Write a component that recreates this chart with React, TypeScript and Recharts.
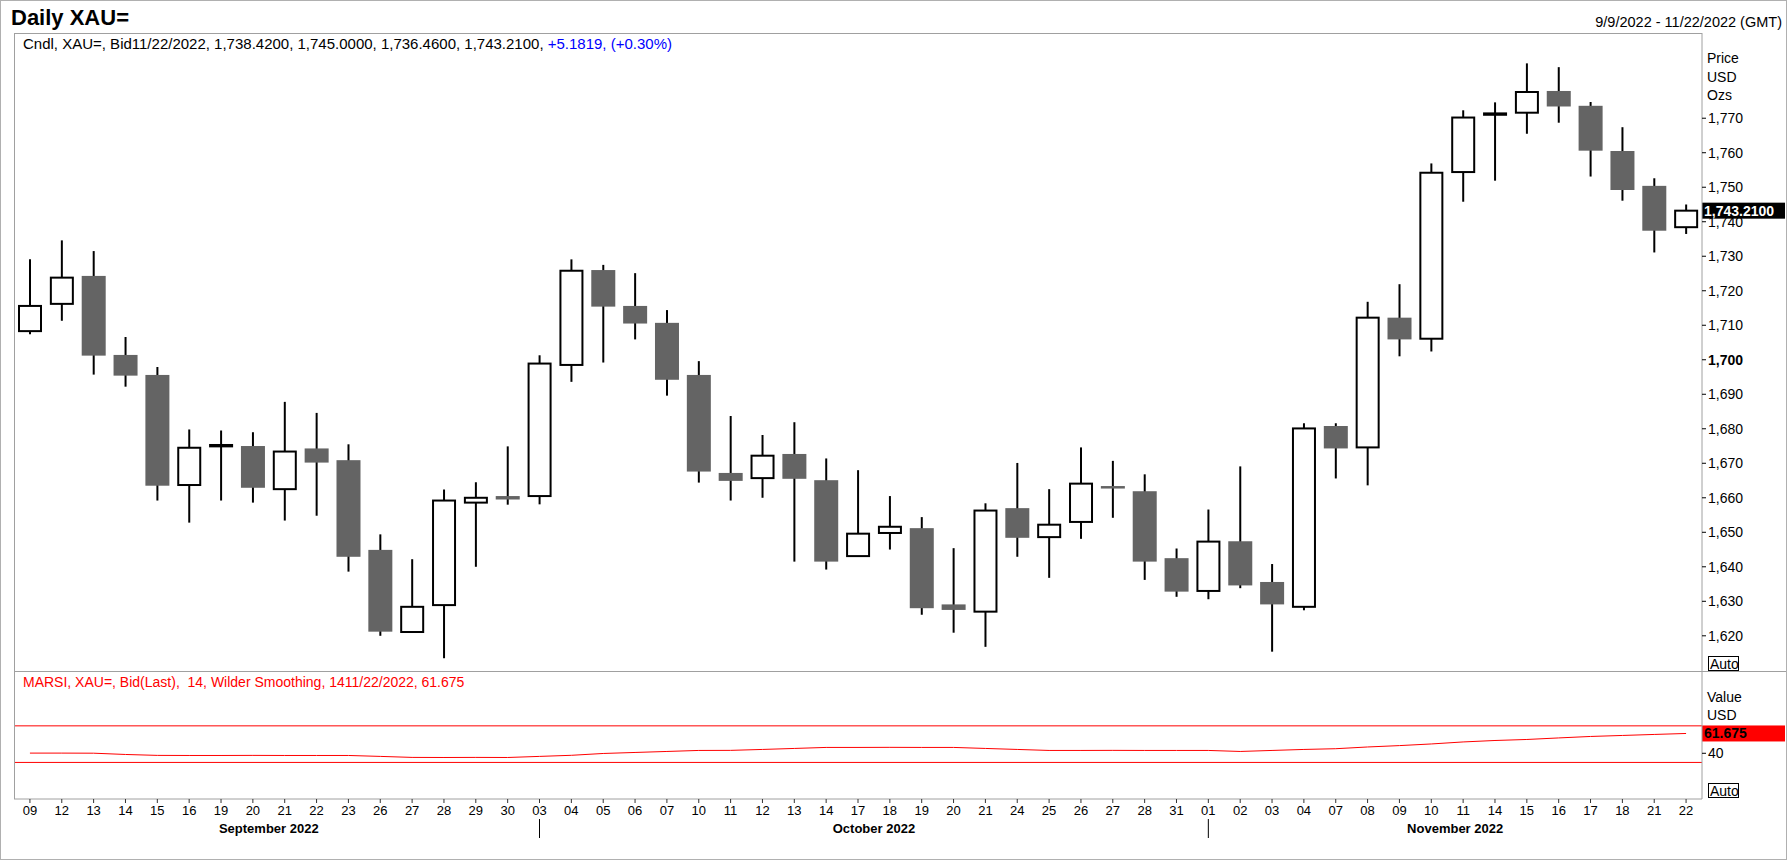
import { ComposedChart, Bar, Line, XAxis, YAxis, ReferenceLine } from 'recharts'

// trading days, MM-DD
const dates = [
  '09-09', '09-12', '09-13', '09-14', '09-15', '09-16', '09-19', '09-20', '09-21', '09-22', '09-23',
  '09-26', '09-27', '09-28', '09-29', '09-30',
  '10-03', '10-04', '10-05', '10-06', '10-07', '10-10', '10-11', '10-12', '10-13', '10-14',
  '10-17', '10-18', '10-19', '10-20', '10-21', '10-24', '10-25', '10-26', '10-27', '10-28', '10-31',
  '11-01', '11-02', '11-03', '11-04', '11-07', '11-08', '11-09', '11-10', '11-11',
  '11-14', '11-15', '11-16', '11-17', '11-18', '11-21', '11-22',
]

const opens = [
  1708.3, 1716.2, 1724.3, 1701.4, 1695.6, 1663.7, 1674.9, 1675.0, 1662.5, 1674.3, 1670.9,
  1644.9, 1621.1, 1628.9, 1658.6, 1660.5,
  1660.5, 1698.5, 1726.0, 1715.6, 1710.7, 1695.6, 1667.2, 1665.7, 1672.7, 1665.1,
  1643.1, 1649.8, 1651.2, 1629.1, 1627.0, 1657.0, 1648.6, 1653.0, 1663.4, 1661.9, 1642.5,
  1633.0, 1647.4, 1635.6, 1628.4, 1680.8, 1674.6, 1712.2, 1706.1, 1754.4,
  1771.0, 1771.6, 1777.9, 1773.6, 1760.5, 1750.4, 1738.42,
]

const highs = [
  1729.1, 1734.6, 1731.5, 1706.6, 1697.9, 1679.8, 1679.5, 1679.0, 1687.8, 1684.6, 1675.5,
  1649.4, 1642.2, 1662.4, 1664.5, 1674.9,
  1701.3, 1729.1, 1727.5, 1725.1, 1714.4, 1699.6, 1683.7, 1678.2, 1681.9, 1671.4,
  1668.0, 1660.5, 1654.4, 1645.4, 1658.4, 1670.1, 1662.5, 1674.6, 1670.7, 1666.8, 1645.3,
  1656.6, 1669.1, 1640.8, 1681.6, 1681.6, 1716.8, 1721.9, 1756.9, 1772.3,
  1774.6, 1785.9, 1784.8, 1774.7, 1767.4, 1752.6, 1745.0,
]

const lows = [
  1707.4, 1711.3, 1695.7, 1692.2, 1659.2, 1652.8, 1659.2, 1658.6, 1653.4, 1654.8, 1638.6,
  1620.0, 1620.9, 1613.5, 1640.0, 1658.0,
  1658.1, 1693.6, 1699.2, 1705.9, 1689.6, 1664.4, 1659.2, 1660.0, 1641.5, 1639.2,
  1643.0, 1645.0, 1626.1, 1620.9, 1616.8, 1642.9, 1636.8, 1648.1, 1654.2, 1636.2, 1631.3,
  1630.6, 1633.8, 1615.4, 1627.4, 1665.6, 1663.6, 1701.0, 1702.4, 1745.8,
  1751.9, 1765.5, 1768.7, 1753.1, 1746.1, 1731.1, 1736.46,
]

const closes = [
  1715.6, 1723.8, 1701.2, 1695.4, 1663.5, 1674.5, 1675.3, 1662.9, 1673.4, 1670.2, 1642.9,
  1621.2, 1628.4, 1659.2, 1660.0, 1659.5,
  1698.9, 1725.8, 1715.4, 1710.5, 1694.2, 1667.6, 1664.9, 1672.2, 1665.5, 1641.5,
  1649.6, 1651.6, 1628.0, 1627.5, 1656.3, 1648.4, 1652.2, 1664.1, 1662.7, 1641.5, 1632.8,
  1647.3, 1634.6, 1629.1, 1680.1, 1674.3, 1712.2, 1705.9, 1754.2, 1770.2,
  1771.4, 1777.6, 1773.4, 1760.6, 1749.2, 1737.4, 1743.21,
]

const marsi = [
  40.2, 40.2, 40.1, 38.7, 37.7, 37.6, 37.6, 37.7, 37.6, 37.6, 37.6,
  36.6, 35.5, 35.4, 35.5, 35.4,
  36.6, 37.8, 39.8, 40.9, 42.0, 43.1, 43.2, 44.2, 45.3, 46.4,
  46.4, 46.5, 46.4, 46.4, 45.3, 44.2, 43.1, 43.1, 43.2, 43.1, 43.1,
  43.1, 42.0, 43.1, 44.2, 45.0, 46.9, 48.4, 50.2, 52.4,
  54.0, 55.1, 56.8, 58.4, 59.5, 60.6, 61.675,
]

const monthNames: Record<string, string> = {
  '09': 'September 2022',
  '10': 'October 2022',
  '11': 'November 2022',
}

const priceTicks = [1620, 1630, 1640, 1650, 1660, 1670, 1680, 1690, 1700, 1710, 1720, 1730, 1740, 1750, 1760, 1770]
const priceDomain = [1609.8, 1794.7]
const rsiTicks = [40]
const rsiDomain = [-10, 130]
const rsiBands = [70, 30]

const data = dates.map((d, i) => ({
  date: d,
  day: d.slice(3),
  month: d.slice(0, 2),
  open: opens[i],
  high: highs[i],
  low: lows[i],
  close: closes[i],
  range: [lows[i], highs[i]],
  rsi: marsi[i],
}))

const W = 1788
const H = 862
const PLOT_L = 14
const PLOT_R = 1702
const AXIS_W = 84
const TOP = 33
const MID = 671
const BOT = 799
const BAND = (PLOT_R - PLOT_L) / data.length
const FONT = '"Liberation Sans", Arial, sans-serif'
const GRAY = '#a0a0a0'
const DOWN = '#646464'

function Candle(props: any) {
  const { x, y, width, height, payload } = props
  const { open, high, low, close } = payload
  const top = Math.min(y, y + height)
  const h = Math.abs(height)
  const k = h / (high - low)
  const yv = (v: number) => top + (high - v) * k
  const cx = x + width / 2
  const bTop = yv(Math.max(open, close))
  const bBot = yv(Math.min(open, close))
  return (
    <g>
      <line x1={cx} x2={cx} y1={yv(high)} y2={yv(low)} stroke="#000" strokeWidth={2} />
      {close >= open ? (
        <rect x={x + 1} y={bTop} width={width - 2} height={Math.max(bBot - bTop, 1)} fill="#fff" stroke="#000" strokeWidth={2} />
      ) : (
        <rect x={x} y={bTop} width={width} height={Math.max(bBot - bTop, 2.5)} fill={DOWN} />
      )}
    </g>
  )
}

function PriceTick(props: any) {
  const { x, y, payload } = props
  const v = payload.value
  return (
    <g>
      <line x1={x} x2={x + 4} y1={y} y2={y} stroke="#000" />
      <text x={x + 6} y={y} dominantBaseline="central" fontSize={14} fontFamily={FONT} fontWeight={v === 1700 ? 'bold' : 'normal'} fill="#000">
        {v.toLocaleString('en-US')}
      </text>
    </g>
  )
}

function DayTick(props: any) {
  const { x, y, payload } = props
  const i = dates.indexOf(payload.value)
  const d = data[i]
  const prev = data[i - 1]
  const first = !prev || prev.month !== d.month
  let cx = x
  if (first) {
    let end = i
    while (end + 1 < data.length && data[end + 1].month === d.month) end++
    if (!prev) cx = x + ((end - i) * BAND) / 2
    else cx = (x + (end + 1 < data.length ? x + (end + 1 - i) * BAND : PLOT_R)) / 2
  }
  return (
    <g fontFamily={FONT}>
      <text x={x} y={y} dy={12} textAnchor="middle" fontSize={13} fill="#000">{d.day}</text>
      {first && prev && <line x1={x} x2={x} y1={y + 16} y2={y + 35} stroke="#000" />}
      {first && (
        <text x={cx} y={y} dy={30} textAnchor="middle" fontSize={13} fontWeight="bold" fill="#000">
          {monthNames[d.month]}
        </text>
      )}
    </g>
  )
}

function ValueTag({ viewBox, text, bg, fg }: any) {
  const right = viewBox.x + viewBox.width
  return (
    <g>
      <rect x={right} y={viewBox.y - 8} width={83} height={16} fill={bg} />
      <text x={right + 2} y={viewBox.y} dominantBaseline="central" fontSize={14} fontWeight="bold" fontFamily={FONT} fill={fg}>
        {text}
      </text>
    </g>
  )
}

function AutoBox({ y }: { y: number }) {
  return (
    <g>
      <rect x={1708.5} y={y + 0.5} width={30} height={14} fill="#fff" stroke="#000" />
      <text x={1710} y={y + 8} dominantBaseline="central" fontSize={14}>Auto</text>
    </g>
  )
}

export default function App() {
  const last = closes[closes.length - 1]
  const lastRsi = marsi[marsi.length - 1]
  return (
    <div style={{ position: 'fixed', left: 0, top: 0, width: W, height: H, background: '#fff', fontFamily: FONT }}>
      <div style={{ position: 'absolute', left: 0, top: 0 }}>
        <ComposedChart width={W} height={MID} data={data} margin={{ top: TOP, right: W - PLOT_R - AXIS_W, bottom: 0, left: PLOT_L }}>
          <XAxis dataKey="date" hide />
          <YAxis
            orientation="right"
            width={AXIS_W}
            type="number"
            domain={priceDomain}
            allowDataOverflow
            ticks={priceTicks}
            interval={0}
            tickSize={0}
            tickMargin={0}
            tickLine={false}
            axisLine={{ stroke: GRAY }}
            tick={<PriceTick />}
          />
          <Bar dataKey="range" barSize={24} shape={<Candle />} isAnimationActive={false} />
          <ReferenceLine
            y={last}
            stroke="none"
            label={(p: any) => <ValueTag viewBox={p.viewBox} text={last.toFixed(4).replace(/^(\d)(\d{3})/, '$1,$2')} bg="#000" fg="#fff" />}
          />
        </ComposedChart>
      </div>
      <div style={{ position: 'absolute', left: 0, top: MID }}>
        <ComposedChart width={W} height={H - MID} data={data} margin={{ top: 0, right: W - PLOT_R - AXIS_W, bottom: 0, left: PLOT_L }}>
          <XAxis
            dataKey="date"
            scale="band"
            interval={0}
            height={H - MID - (BOT - MID)}
            tickSize={4}
            tickMargin={0}
            axisLine={{ stroke: GRAY }}
            tickLine={{ stroke: '#333' }}
            tick={<DayTick />}
          />
          <YAxis
            orientation="right"
            width={AXIS_W}
            type="number"
            domain={rsiDomain}
            allowDataOverflow
            ticks={rsiTicks}
            tickSize={0}
            tickMargin={0}
            tickLine={false}
            axisLine={{ stroke: GRAY }}
            tick={<PriceTick />}
          />
          {rsiBands.map((b) => (
            <ReferenceLine key={b} y={b} stroke="#ff0000" strokeWidth={1} />
          ))}
          <Line dataKey="rsi" type="linear" stroke="#ff0000" strokeWidth={1} dot={false} isAnimationActive={false} />
          <ReferenceLine
            y={lastRsi}
            stroke="none"
            label={(p: any) => <ValueTag viewBox={p.viewBox} text={lastRsi.toFixed(3)} bg="#ff0000" fg="#000" />}
          />
        </ComposedChart>
      </div>
      <svg width={W} height={H} style={{ position: 'absolute', left: 0, top: 0, pointerEvents: 'none' }} fontFamily={FONT}>
        <rect x={0.5} y={0.5} width={W - 2} height={H - 3} fill="none" stroke="#b0b0b0" />
        <text x={11} y={17} dominantBaseline="central" fontSize={22} fontWeight="bold">Daily XAU=</text>
        <text x={1782} y={22} textAnchor="end" dominantBaseline="central" fontSize={14.5}>9/9/2022 - 11/22/2022 (GMT)</text>
        <line x1={PLOT_L} x2={PLOT_R} y1={TOP + 0.5} y2={TOP + 0.5} stroke={GRAY} />
        <line x1={PLOT_L + 0.5} x2={PLOT_L + 0.5} y1={TOP} y2={BOT} stroke={GRAY} />
        <line x1={PLOT_L} x2={W - 2} y1={MID + 0.5} y2={MID + 0.5} stroke={GRAY} />
        <text x={23} y={43} dominantBaseline="central" fontSize={15} fill="#000">
          Cndl, XAU=, Bid11/22/2022, 1,738.4200, 1,745.0000, 1,736.4600, 1,743.2100,{' '}
          <tspan fill="#0000ff">+5.1819, (+0.30%)</tspan>
        </text>
        <text x={1707} y={58} dominantBaseline="central" fontSize={14}>Price</text>
        <text x={1707} y={77} dominantBaseline="central" fontSize={14}>USD</text>
        <text x={1707} y={95} dominantBaseline="central" fontSize={14}>Ozs</text>
        <AutoBox y={656} />
        <text x={23} y={682} dominantBaseline="central" fontSize={14} fill="#ff0000" style={{ whiteSpace: 'pre' }}>
          {'MARSI, XAU=, Bid(Last),  14, Wilder Smoothing, 1411/22/2022, 61.675'}
        </text>
        <text x={1707} y={697} dominantBaseline="central" fontSize={14}>Value</text>
        <text x={1707} y={715} dominantBaseline="central" fontSize={14}>USD</text>
        <AutoBox y={783} />
      </svg>
    </div>
  )
}
